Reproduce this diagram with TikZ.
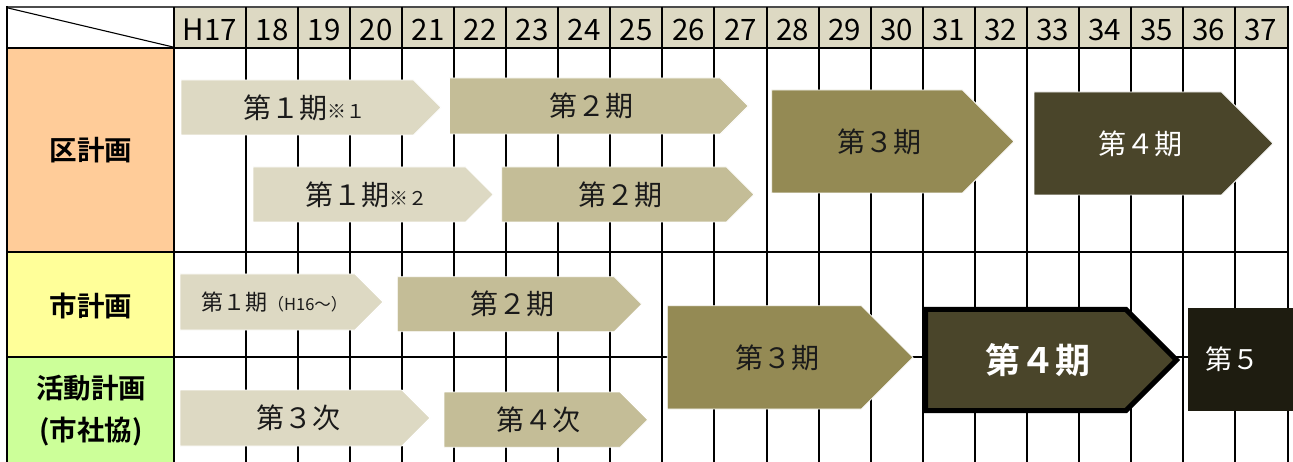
\documentclass[tikz,border=0pt]{standalone}
\usepackage{fontspec}
\setmainfont{Noto Sans CJK JP}[BoldFont={Noto Sans CJK JP Bold}]
\definecolor{hdr}{HTML}{DDD9C3}
\definecolor{cA}{HTML}{DDD9C3}
\definecolor{cB}{HTML}{C4BD97}
\definecolor{cC}{HTML}{948A54}
\definecolor{cD}{HTML}{4A452A}
\definecolor{cE}{HTML}{1E1C10}
\definecolor{cOr}{HTML}{FFCC99}
\definecolor{cYe}{HTML}{FFFF99}
\definecolor{cGr}{HTML}{CCFF99}
\definecolor{ink}{HTML}{1A1A1A}
\newcommand\hplate[8]{% name, x1, y1, xtip, y2, path style, text style, text
  \pgfmathsetmacro\hpd{(#5-#3)/2}%
  \pgfmathsetmacro\hpm{(#3+#5)/2}%
  \pgfmathsetmacro\hpb{#4-\hpd}%
  \pgfmathsetmacro\hpc{(#2+#4-\hpd/2)/2}%
  \path[#6] (#2,#3) -- (\hpb,#3) -- (#4,\hpm) -- (\hpb,#5) -- (#2,#5) -- cycle;
  \node[#7] (#1) at (\hpc,\hpm) {#8};
}
\begin{document}
\begin{tikzpicture}[x=1pt,y=-1pt,
  gridline/.style={line width=2pt,black},
  yr/.style={font=\fontsize{29.5}{29.5}\selectfont,anchor=base,text=black,inner sep=0pt},
  lbl/.style={font=\bfseries\fontsize{27.5}{42}\selectfont,align=center,text=black,inner sep=0pt},
  plateA/.style={fill=cA,draw=white,line width=0.8pt},
  plateB/.style={fill=cB,draw=white,line width=0.8pt},
  plateC/.style={fill=cC,draw=white,line width=0.8pt},
  plateD/.style={fill=cD,draw=white,line width=0.8pt},
  darktxt/.style={text=ink,inner sep=0pt,font=\fontsize{28}{28}\selectfont},
  lighttxt/.style={text=white,inner sep=0pt,font=\fontsize{28}{28}\selectfont},
  boldplate/.style={fill=cD,draw=black,line width=5pt,line join=miter},
  boldtxt/.style={text=white,inner sep=0pt,font=\bfseries\fontsize{35}{35}\selectfont}]
\useasboundingbox (0,0) rectangle (1293,462);
\fill[white] (0,0) rectangle (1293,462);
% backgrounds
\fill[hdr] (174,7) rectangle (1288,48);
\fill[cOr] (7,48) rectangle (174,252);
\fill[cYe] (7,252) rectangle (174,357);
\fill[cGr] (7,357) rectangle (174,462);
% grid
\draw[line width=2pt,black!70] (7,7) -- (1288,7);
\draw[gridline] (7,48) -- (1288,48);
\draw[gridline] (7,252) -- (1288,252);
\draw[gridline] (7,357) -- (1288,357);
\draw[gridline] (7,6) -- (7,462);
\draw[gridline] (174,7) -- (174,462);
\foreach \k in {0,...,19} {
  \pgfmathsetmacro\xx{246+52.05*\k}
  \draw[gridline] (\xx,7) -- (\xx,462);
}
\draw[gridline] (1288,6) -- (1288,462);
\draw[line width=1.1pt] (8,8) -- (173,47);
% header years
\node[yr] (yH17) at (210,40.5) {H17};
\foreach \y [count=\k from 0] in {18,...,37} {
  \pgfmathsetmacro\xx{246+52.05*\k+26}
  \node[yr] (y\y) at (\xx,40.5) {\y};
}
% row labels
\node[lbl] (ku) at (91,150) {区計画};
\node[lbl] (shi) at (91,306) {市計画};
\node[lbl] (katsu) at (91,411) {活動計画\\(市社協)};
% 区計画
\hplate{kuA}{181}{80}{441}{135}{plateA}{darktxt}{第１期{\fontsize{19}{19}\selectfont ※１}}
\hplate{kuB}{449.5}{78}{748.3}{134}{plateB}{darktxt}{第２期}
\hplate{kuC}{253}{167}{493.3}{222}{plateA}{darktxt}{第１期{\fontsize{19}{19}\selectfont ※２}}
\hplate{kuD}{501.7}{167}{754}{222}{plateB}{darktxt}{第２期}
\hplate{kuE}{771.7}{90}{1014}{193}{plateC}{darktxt}{第３期}
\hplate{kuF}{1034}{92}{1273}{195}{plateD}{lighttxt}{第４期}
% 市計画
\hplate{shiA}{180}{274}{383}{330}{plateA}{darktxt,font=\fontsize{22}{22}\selectfont}{第１期{\fontsize{16.5}{16.5}\selectfont （H16～）}}
\hplate{shiB}{397.3}{276.7}{641.7}{331.7}{plateB}{darktxt}{第２期}
\hplate{shiC}{667.3}{305.7}{913}{409}{plateC}{darktxt}{第３期}
\hplate{shiD}{925.5}{309.5}{1176.5}{410.5}{boldplate}{boldtxt}{第４期}
\fill[cE] (1188,308) rectangle (1293,411);
\node[lighttxt,font=\fontsize{27}{27}\selectfont] (shiE) at (1232,359.5) {第５};
% 活動計画
\hplate{katA}{180}{390}{430}{446}{plateA}{darktxt}{第３次}
\hplate{katB}{444}{392}{647.7}{447.3}{plateB}{darktxt}{第４次}
\end{tikzpicture}
\end{document}
